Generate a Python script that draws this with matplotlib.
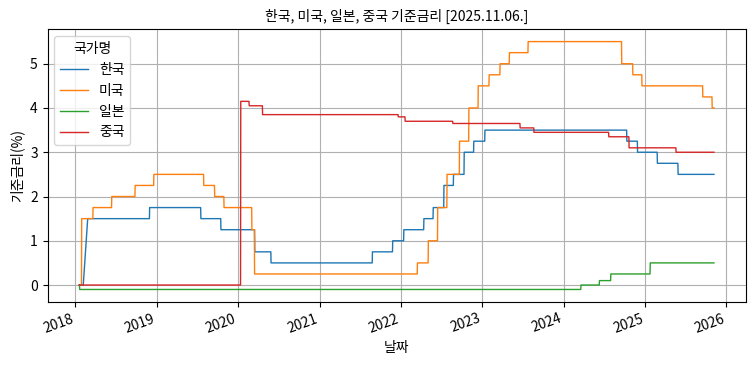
import pandas as pd
import matplotlib
matplotlib.use("Agg")
import matplotlib.pyplot as plt

plt.rcParams['font.family'] = ['Noto Sans CJK KR', 'DejaVu Sans']
plt.rcParams['axes.unicode_minus'] = False

start_date = "2018-01-18"
end_date = "2025-11-06"

# 한국 기준금리
kr_dates = ["2018-02-25", "2018-11-30", "2019-07-18", "2019-10-16", "2020-03-16",
            "2020-05-28", "2021-08-26", "2021-11-25", "2022-01-14", "2022-04-14",
            "2022-05-26", "2022-07-13", "2022-08-25", "2022-10-12", "2022-11-24",
            "2023-01-13", "2024-10-11", "2024-11-28", "2025-02-25", "2025-05-29"]
kr_rates = [1.5, 1.75, 1.5, 1.25, 0.75, 0.5, 0.75, 1.0, 1.25, 1.5,
            1.75, 2.25, 2.5, 3.0, 3.25, 3.5, 3.25, 3.0, 2.75, 2.5]

# 미국 기준금리
us_dates = ["2018-01-29", "2018-03-21", "2018-06-13", "2018-09-26", "2018-12-19",
            "2019-07-31", "2019-09-18", "2019-10-30", "2020-03-03", "2020-03-15",
            "2022-03-16", "2022-05-04", "2022-06-15", "2022-07-27", "2022-09-21",
            "2022-11-02", "2022-12-14", "2023-02-01", "2023-03-22", "2023-05-03",
            "2023-07-26", "2024-09-18", "2024-11-07", "2024-12-18", "2025-09-17",
            "2025-10-29"]
us_rates = [1.5, 1.75, 2.0, 2.25, 2.5, 2.25, 2.0, 1.75, 1.25, 0.25,
            0.5, 1.0, 1.75, 2.5, 3.25, 4.0, 4.5, 4.75, 5.0, 5.25,
            5.5, 5.0, 4.75, 4.5, 4.25, 4.0]

# 일본 기준금리
jp_dates = ["2018-01-20", "2024-03-19", "2024-06-10", "2024-07-31", "2025-01-24"]
jp_rates = [-0.1, 0.0, 0.1, 0.25, 0.5]

# 중국 기준금리
cn_dates = ["2020-01-13", "2020-02-20", "2020-04-20", "2021-12-20", "2022-01-20",
            "2022-08-22", "2023-06-20", "2023-08-21", "2024-07-22", "2024-10-21",
            "2025-05-20"]
cn_rates = [4.15, 4.05, 3.85, 3.8, 3.7, 3.65, 3.55, 3.45, 3.35, 3.1, 3.0]


def step_series(dates, rates, first_lag=1):
    xs = [pd.Timestamp(start_date)]
    ys = [0.0]
    prev = 0.0
    for i, (d, r) in enumerate(zip(dates, rates)):
        d = pd.Timestamp(d)
        lag = first_lag if i == 0 else 1
        xs += [d - pd.Timedelta(days=lag), d]
        ys += [prev, r]
        prev = r
    xs.append(pd.Timestamp(end_date))
    ys.append(prev)
    return xs, ys


fig, ax = plt.subplots(figsize=(7.54, 3.65), dpi=100)

for name, d, r, lag in [("한국", kr_dates, kr_rates, 20),
                        ("미국", us_dates, us_rates, 1),
                        ("일본", jp_dates, jp_rates, 1),
                        ("중국", cn_dates, cn_rates, 1)]:
    xs, ys = step_series(d, r, lag)
    ax.plot(xs, ys, label=name, linewidth=1)

ax.set_title("한국, 미국, 일본, 중국 기준금리 [2025.11.06.]", fontsize=10)
ax.set_xlabel("날짜")
ax.set_ylabel("기준금리(%)")
ax.grid(True)
ax.legend(title="국가명", loc="upper left")
plt.setp(ax.get_xticklabels(), rotation=20, ha="right")

fig.subplots_adjust(left=0.063, right=0.989, top=0.920, bottom=0.173)
fig.savefig("out.png")
